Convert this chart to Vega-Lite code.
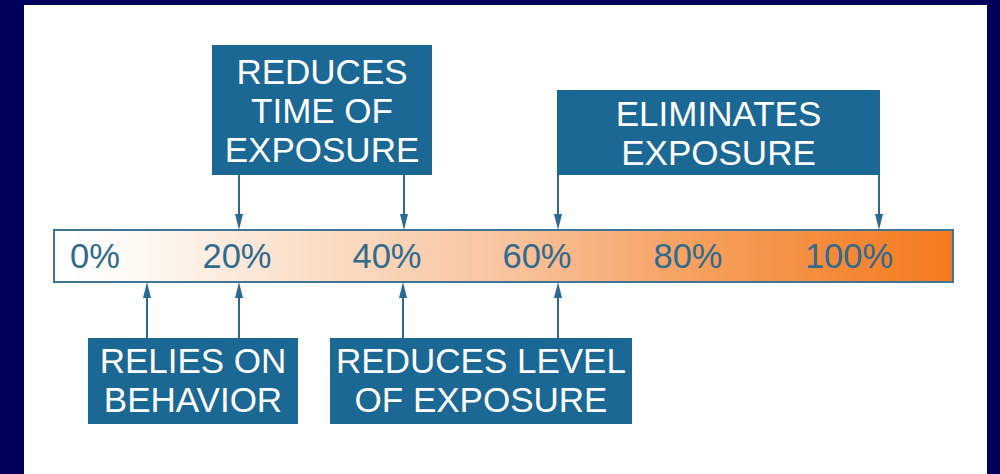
{
  "$schema": "https://vega.github.io/schema/vega-lite/v6.json",
  "width": 1000,
  "height": 474,
  "padding": 0,
  "autosize": "none",
  "background": "#00005a",
  "config": {"view": {"stroke": null}, "axis": {"disable": true}},
  "datasets": {
    "panel": [{"x": 2.4, "x2": 98.7, "y": 0, "y2": 46.9}],
    "bar": [{"x": 5.4, "x2": 95.3, "y": 19.2, "y2": 24.4}],
    "ticks": [
      {"label": "0%", "x": 9.5, "y": 20.6},
      {"label": "20%", "x": 23.7, "y": 20.6},
      {"label": "40%", "x": 38.7, "y": 20.6},
      {"label": "60%", "x": 53.7, "y": 20.6},
      {"label": "80%", "x": 68.8, "y": 20.6},
      {"label": "100%", "x": 84.9, "y": 20.6}
    ],
    "shafts": [
      {"x": 23.9, "y": 29.9, "y2": 25.4, "dir": "down"},
      {"x": 40.4, "y": 29.9, "y2": 25.4, "dir": "down"},
      {"x": 55.8, "y": 29.9, "y2": 25.4, "dir": "down"},
      {"x": 87.9, "y": 29.9, "y2": 25.4, "dir": "down"},
      {"x": 14.7, "y": 13.6, "y2": 18.2, "dir": "up"},
      {"x": 23.9, "y": 13.6, "y2": 18.2, "dir": "up"},
      {"x": 40.3, "y": 13.6, "y2": 18.2, "dir": "up"},
      {"x": 55.8, "y": 13.6, "y2": 18.2, "dir": "up"}
    ],
    "heads": [
      {"x": 23.9, "y": 25.2, "dir": "down"},
      {"x": 40.4, "y": 25.2, "dir": "down"},
      {"x": 55.8, "y": 25.2, "dir": "down"},
      {"x": 87.9, "y": 25.2, "dir": "down"},
      {"x": 14.7, "y": 18.4, "dir": "up"},
      {"x": 23.9, "y": 18.4, "dir": "up"},
      {"x": 40.3, "y": 18.4, "dir": "up"},
      {"x": 55.8, "y": 18.4, "dir": "up"}
    ],
    "boxes": [
      {"label": "REDUCES\nTIME OF\nEXPOSURE", "x": 21.2, "x2": 43.2, "y": 29.9, "y2": 42.9, "cx": 32.2, "cy": 40.1},
      {"label": "ELIMINATES\nEXPOSURE", "x": 55.7, "x2": 88.0, "y": 29.9, "y2": 38.4, "cx": 71.85, "cy": 35.9},
      {"label": "RELIES ON\nBEHAVIOR", "x": 8.8, "x2": 29.8, "y": 5.0, "y2": 13.6, "cx": 19.3, "cy": 11.2},
      {"label": "REDUCES LEVEL\nOF EXPOSURE", "x": 33.0, "x2": 63.2, "y": 5.0, "y2": 13.6, "cx": 48.1, "cy": 11.2}
    ]
  },
  "layer": [
    {
      "data": {"name": "panel"},
      "mark": {"type": "rect", "fill": "#ffffff"},
      "encoding": {
        "x": {"field": "x", "type": "quantitative", "scale": {"domain": [0, 100], "nice": false, "zero": false}},
        "x2": {"field": "x2"},
        "y": {"field": "y", "type": "quantitative", "scale": {"domain": [0, 47.4], "nice": false, "zero": false}},
        "y2": {"field": "y2"}
      }
    },
    {
      "data": {"name": "bar"},
      "mark": {
        "type": "rect",
        "stroke": "#3d7497",
        "strokeWidth": 2,
        "fill": {
          "gradient": "linear",
          "x1": 0, "y1": 0, "x2": 1, "y2": 0,
          "stops": [
            {"offset": 0, "color": "#ffffff"},
            {"offset": 0.08, "color": "#fefaf6"},
            {"offset": 0.3, "color": "#fadcc4"},
            {"offset": 0.5, "color": "#f8c49f"},
            {"offset": 0.7, "color": "#f6a262"},
            {"offset": 0.85, "color": "#f58c3e"},
            {"offset": 1, "color": "#f37a1e"}
          ]
        }
      },
      "encoding": {
        "x": {"field": "x", "type": "quantitative", "scale": {"domain": [0, 100], "nice": false, "zero": false}},
        "x2": {"field": "x2"},
        "y": {"field": "y", "type": "quantitative", "scale": {"domain": [0, 47.4], "nice": false, "zero": false}},
        "y2": {"field": "y2"}
      }
    },
    {
      "data": {"name": "ticks"},
      "mark": {"type": "text", "font": "Liberation Sans", "fontSize": 34.5, "color": "#2f6b8e", "align": "center", "baseline": "alphabetic"},
      "encoding": {
        "x": {"field": "x", "type": "quantitative", "scale": {"domain": [0, 100], "nice": false, "zero": false}},
        "y": {"field": "y", "type": "quantitative", "scale": {"domain": [0, 47.4], "nice": false, "zero": false}},
        "text": {"field": "label"}
      }
    },
    {
      "data": {"name": "shafts"},
      "mark": {"type": "rule", "color": "#2a6a93", "strokeWidth": 2},
      "encoding": {
        "x": {"field": "x", "type": "quantitative", "scale": {"domain": [0, 100], "nice": false, "zero": false}},
        "y": {"field": "y", "type": "quantitative", "scale": {"domain": [0, 47.4], "nice": false, "zero": false}},
        "y2": {"field": "y2"}
      }
    },
    {
      "data": {"name": "heads"},
      "mark": {"type": "point", "filled": true, "size": 256, "color": "#2a6a93", "opacity": 1},
      "encoding": {
        "x": {"field": "x", "type": "quantitative", "scale": {"domain": [0, 100], "nice": false, "zero": false}},
        "y": {"field": "y", "type": "quantitative", "scale": {"domain": [0, 47.4], "nice": false, "zero": false}},
        "shape": {"field": "dir", "type": "nominal", "legend": null, "scale": {"domain": ["down", "up"], "range": ["M-0.5,-1L0.5,-1L0,1Z", "M-0.5,1L0.5,1L0,-1Z"]}}
      }
    },
    {
      "data": {"name": "boxes"},
      "mark": {"type": "rect", "fill": "#1b6894"},
      "encoding": {
        "x": {"field": "x", "type": "quantitative", "scale": {"domain": [0, 100], "nice": false, "zero": false}},
        "x2": {"field": "x2"},
        "y": {"field": "y", "type": "quantitative", "scale": {"domain": [0, 47.4], "nice": false, "zero": false}},
        "y2": {"field": "y2"}
      }
    },
    {
      "data": {"name": "boxes"},
      "mark": {"type": "text", "font": "Liberation Sans", "fontSize": 35, "lineHeight": 39, "lineBreak": "\n", "color": "#ffffff", "align": "center", "baseline": "middle"},
      "encoding": {
        "x": {"field": "cx", "type": "quantitative", "scale": {"domain": [0, 100], "nice": false, "zero": false}},
        "y": {"field": "cy", "type": "quantitative", "scale": {"domain": [0, 47.4], "nice": false, "zero": false}},
        "text": {"field": "label"}
      }
    }
  ]
}
